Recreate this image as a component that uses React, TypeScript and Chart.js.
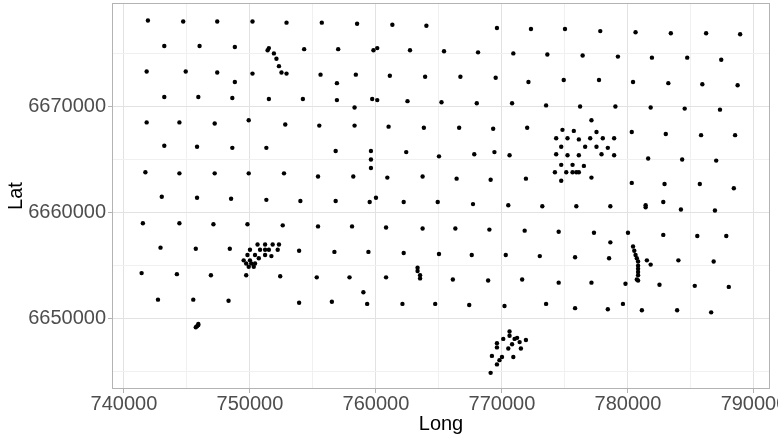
import React, { useEffect, useRef } from 'react';
import { Chart, registerables } from 'chart.js';

Chart.register(...registerables);

// Sample locations (Long / Lat)
const lon = [
  741900, 741800, 741800, 741700, 741500, 741400,
  743200, 743200, 743200, 743000, 742900, 742700,
  744700, 746000, 744900, 745900, 744400, 745800, 744400, 745800, 744400, 745700, 744200, 745500,
  745700, 745800, 745900, 745900,
  747400, 748800, 747400, 748800, 748600, 747200, 748600, 747200, 748500, 747100, 748400, 746900, 748300,
  750200, 750200, 751500, 749900, 751300, 749900, 751300, 749800, 749700,
  751400, 751500, 751900, 752100, 752300, 752500, 752900,
  750600, 751200, 751800, 752300, 750000, 750800, 751200, 751500, 752200, 749800, 750400, 751200, 751700, 750700, 749500, 750000, 749700, 750100, 750400, 749900, 750300,
  752900, 754300, 754200, 752800, 752700, 754000, 752600, 753900, 752400, 753900,
  755700, 757000, 755600, 756900, 756900, 755500, 756800, 755400, 756800, 755400, 756700, 755300, 756500,
  758500, 759800, 760100, 758400, 759700, 760100, 758300, 758300, 759600, 759600, 759600, 758200, 759500, 760000, 758100, 759400, 757900, 759000, 759300,
  761300, 762700, 761100, 762500, 761000, 762400, 760900, 762200, 760800, 762200, 760800, 762100,
  764000, 765400, 763900, 765200, 763800, 765000, 763700, 764900, 763700, 765000, 763300, 763300, 763500, 763500, 764700,
  768100, 766700, 768000, 766600, 767800, 766400, 767700, 766300, 767600, 766100, 767400,
  769600, 770900, 769500, 770800, 769300, 769400, 770600, 769100, 770500, 769000, 770300, 768900, 770200,
  772300, 773600, 772100, 773500, 772000, 771900, 773200, 771800, 773000, 771600, 773500,
  775000, 776400, 774900, 776200, 775900, 774500, 775800, 774500, 775800,
  777800, 779200, 777700, 779000, 778600, 777300, 778600, 778500, 777100, 778400, 779600,
  780600, 781900, 780400, 781800, 780300, 781600, 780300, 781400, 781400, 782800, 780000, 779800, 781100,
  780400, 780500, 780600, 780700, 780800, 780800, 780800, 780800, 780800, 780700, 780800, 781500, 781800,
  783400, 784700, 783200, 784500, 783000, 784300, 782900, 784200, 782800, 784000, 782500, 783900,
  786200, 787400, 785900, 787300, 785800, 787000, 785700, 786900, 785500, 786800, 785300, 786600,
  788900, 788700, 788500, 788400, 787800, 788000,
  777100, 774800, 775700, 777500, 774300, 775200, 776100, 777000, 778000, 778900, 774700, 776600, 777500, 778400,
  774300, 775200, 776100, 777900, 778900, 774700, 775600, 776500, 774200, 775100, 775600, 775900, 776100, 774700, 777100,
  770600, 770600, 770100, 771000, 771200, 771400, 771900, 770800, 770500, 771500, 770900, 770000, 769800, 769600, 769600, 769200, 769600, 769100,
];

const lat = [
  6678100, 6673300, 6668500, 6663800, 6659000, 6654300,
  6675700, 6670900, 6666300, 6661500, 6656700, 6651800,
  6678000, 6675700, 6673300, 6670900, 6668500, 6666200, 6663700, 6661400, 6659000, 6656600, 6654200, 6651800,
  6649200, 6649300, 6649400, 6649500,
  6678000, 6675600, 6673200, 6672300, 6670800, 6668400, 6666100, 6663700, 6661300, 6658900, 6656600, 6654100, 6651700,
  6678000, 6673100, 6670700, 6668700, 6666100, 6663700, 6661200, 6658900, 6654100,
  6675300, 6675500, 6675000, 6674500, 6673800, 6673200, 6673100,
  6657000, 6657000, 6657000, 6657000, 6656500, 6656500, 6656500, 6656500, 6656500, 6656000, 6656000, 6656000, 6655900, 6655700, 6655500, 6655500, 6655200, 6655200, 6655200, 6654900, 6654900,
  6677900, 6675400, 6670700, 6668300, 6663700, 6661100, 6658800, 6656400, 6654000, 6651500,
  6677900, 6675400, 6673000, 6672200, 6670600, 6668200, 6665800, 6663400, 6661100, 6658700, 6656300, 6653900, 6651600,
  6677800, 6675300, 6675500, 6673000, 6670700, 6670600, 6669900, 6668200, 6665800, 6665000, 6664200, 6663400, 6661000, 6661400, 6658700, 6656300, 6653900, 6652500, 6651400,
  6677700, 6675300, 6672900, 6670500, 6668100, 6665700, 6663300, 6661000, 6658600, 6656200, 6653900, 6651400,
  6677600, 6675200, 6672800, 6670400, 6668000, 6665300, 6663400, 6661000, 6658500, 6656100, 6654800, 6654500, 6654100, 6653800, 6651400,
  6675100, 6672800, 6670300, 6668000, 6665500, 6663200, 6660800, 6658500, 6656000, 6653700, 6651300,
  6677400, 6675000, 6672700, 6670300, 6667900, 6665700, 6665400, 6663100, 6660700, 6658400, 6656000, 6653600, 6651200,
  6677300, 6674900, 6672300, 6670100, 6668000, 6663200, 6660600, 6658300, 6655900, 6653700, 6651400,
  6677300, 6674800, 6672500, 6670000, 6660600, 6658200, 6655800, 6653400, 6651000,
  6677100, 6674700, 6672500, 6670000, 6660600, 6658100, 6657200, 6655700, 6653400, 6650900, 6651400,
  6677000, 6674600, 6672300, 6669900, 6667600, 6665100, 6662800, 6660700, 6660500, 6661000, 6658100, 6653300, 6650800,
  6656800, 6656400, 6656000, 6655700, 6655400, 6655000, 6654700, 6654400, 6654100, 6653700, 6653600, 6655500, 6655100,
  6676900, 6674600, 6672200, 6669800, 6667400, 6665000, 6662700, 6660300, 6657900, 6655500, 6653200, 6650800,
  6676900, 6674400, 6672100, 6669700, 6667300, 6664900, 6662700, 6660200, 6657800, 6655400, 6653100, 6650600,
  6676800, 6672000, 6667300, 6662300, 6657800, 6653000,
  6668700, 6667800, 6667700, 6667600, 6667000, 6667000, 6666900, 6667000, 6667000, 6667000, 6666200, 6666200, 6666200, 6666100,
  6665500, 6665400, 6665400, 6665500, 6665400, 6664500, 6664500, 6664400, 6663800, 6663800, 6663800, 6663800, 6663800, 6663000, 6663300,
  6648800, 6648400, 6648100, 6648100, 6648200, 6647800, 6648000, 6647600, 6647200, 6647200, 6646400, 6646400, 6646100, 6647700, 6647300, 6646500, 6645700, 6644900,
];

const xMajor = [740000, 750000, 760000, 770000, 780000, 790000];
const xMinor = [745000, 755000, 765000, 775000, 785000];
const yMajor = [6650000, 6660000, 6670000];
const yMinor = [6645000, 6655000, 6665000, 6675000];
const xRange = [739050, 791270];
const yRange = [6643380, 6679750];

const MAJOR = '#e2e2e2';
const MINOR = '#f0f0f0';
const FRAME = '#b3b3b3';

export default function App() {
  const ref = useRef<HTMLCanvasElement>(null);

  useEffect(() => {
    if (!ref.current) return;
    const points = lon.map((x, i) => ({ x, y: lat[i] }));

    const frame = {
      id: 'panelFrame',
      afterDraw(chart: any) {
        const { ctx, chartArea: a } = chart;
        ctx.save();
        ctx.strokeStyle = FRAME;
        ctx.lineWidth = 1;
        ctx.strokeRect(a.left + 0.5, a.top + 0.5, a.right - a.left - 1, a.bottom - a.top - 1);
        ctx.restore();
      },
    };

    const chart = new Chart(ref.current, {
      type: 'scatter',
      data: {
        datasets: [
          {
            data: points,
            pointRadius: 2.2,
            pointBackgroundColor: '#000000',
            pointBorderWidth: 0,
            pointHoverRadius: 2.2,
          },
        ],
      },
      options: {
        animation: false,
        responsive: false,
        events: [],
        layout: { padding: { top: 3, right: 8, bottom: 0, left: 0 } },
        plugins: { legend: { display: false }, tooltip: { enabled: false } },
        scales: {
          x: {
            type: 'linear',
            min: xRange[0],
            max: xRange[1],
            afterBuildTicks: (s: any) => {
              s.ticks = [...xMajor, ...xMinor].sort((a, b) => a - b).map((v) => ({ value: v }));
            },
            afterFit: (s: any) => {
              s.height = 50;
              s.paddingLeft = 0;
              s.paddingRight = 0;
            },
            border: { display: false },
            grid: {
              color: (c: any) => (xMajor.includes(c.tick?.value) ? MAJOR : MINOR),
              tickColor: (c: any) => (xMajor.includes(c.tick?.value) ? FRAME : 'rgba(0,0,0,0)'),
              lineWidth: 1,
              tickLength: 4,
            },
            ticks: {
              autoSkip: false,
              maxRotation: 0,
              minRotation: 0,
              padding: 1,
              color: '#4d4d4d',
              font: { family: 'Liberation Sans, Arial, sans-serif', size: 20, lineHeight: 1 },
              callback: (v: any) => (xMajor.includes(v) ? String(v) : ''),
            },
            title: {
              display: true,
              text: 'Long',
              color: '#000000',
              font: { family: 'Liberation Sans, Arial, sans-serif', size: 20, lineHeight: 1 },
              padding: { top: 0, bottom: 5 },
            },
          },
          y: {
            type: 'linear',
            min: yRange[0],
            max: yRange[1],
            afterBuildTicks: (s: any) => {
              s.ticks = [...yMajor, ...yMinor].sort((a, b) => a - b).map((v) => ({ value: v }));
            },
            afterFit: (s: any) => {
              s.width = 112;
              s.paddingTop = 0;
              s.paddingBottom = 0;
            },
            border: { display: false },
            grid: {
              color: (c: any) => (yMajor.includes(c.tick?.value) ? MAJOR : MINOR),
              tickColor: (c: any) => (yMajor.includes(c.tick?.value) ? FRAME : 'rgba(0,0,0,0)'),
              lineWidth: 1,
              tickLength: 4,
            },
            ticks: {
              autoSkip: false,
              padding: 2,
              color: '#4d4d4d',
              font: { family: 'Liberation Sans, Arial, sans-serif', size: 20, lineHeight: 1 },
              callback: (v: any) => (yMajor.includes(v) ? String(v) : ''),
            },
            title: {
              display: true,
              text: 'Lat',
              color: '#000000',
              font: { family: 'Liberation Sans, Arial, sans-serif', size: 20, lineHeight: 1 },
              padding: { top: 6, bottom: 0 },
            },
          },
        },
      },
      plugins: [frame],
    });

    return () => chart.destroy();
  }, []);

  return (
    <div style={{ position: 'fixed', left: 0, top: 0, width: 778, height: 439, background: '#ffffff', overflow: 'hidden' }}>
      <canvas ref={ref} width={778} height={439} style={{ display: 'block' }} />
    </div>
  );
}
